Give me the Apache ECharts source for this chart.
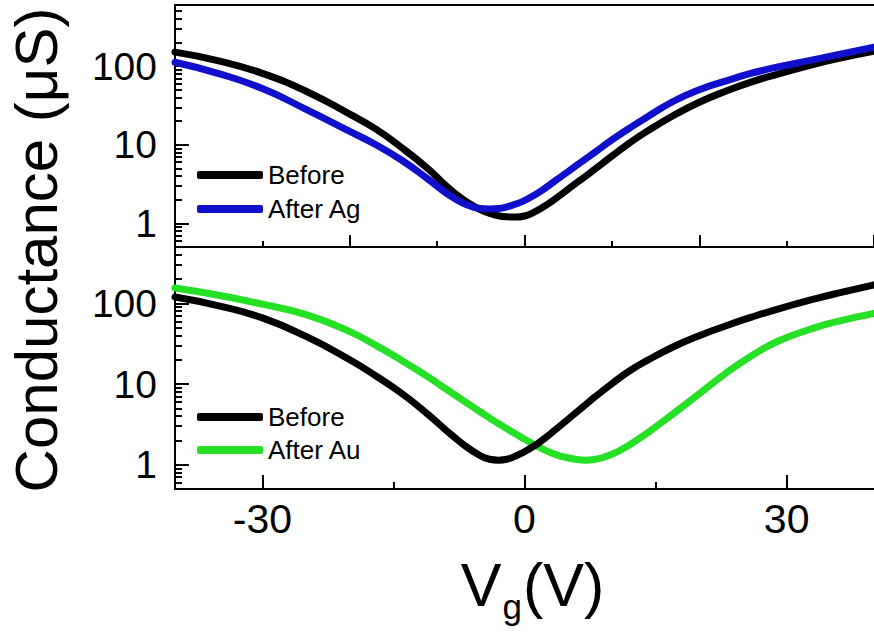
<!DOCTYPE html>
<html><head><meta charset="utf-8">
<script src="https://cdn.jsdelivr.net/npm/echarts@6/dist/echarts.min.js"></script>
<style>html,body{margin:0;padding:0;background:#fff}#c{width:874px;height:635px}</style>
</head><body><div id="c"></div>
<script>
// ---- data ----
const vg = [-40,-35,-30,-25,-20,-17,-14,-11,-9,-7,-5,-4,-3,-2,-1,0,1,2,3,4,6,7,8,10,12,14,17,20,23,26,29,33,36,40];
const topBefore  = [151,117,81,48,24.5,15.8,9.1,4.9,3.02,2.0,1.48,1.34,1.25,1.21,1.2,1.24,1.37,1.58,1.86,2.24,3.31,3.98,4.84,7.16,10.5,14.8,23.4,34.7,47.9,63.1,79.4,105,126,155];
const topAfterAg = [112,80.4,51.9,28.2,14.8,10.0,6.31,3.63,2.45,1.80,1.54,1.52,1.54,1.62,1.76,1.95,2.24,2.63,3.16,3.80,5.50,6.61,7.94,11.5,16.2,22.4,35.5,50.1,64.6,81.3,97.7,120,141,174];
const botBefore  = [120,93.3,66.1,38.9,20.0,12.6,7.59,4.17,2.69,1.78,1.28,1.17,1.14,1.17,1.28,1.45,1.68,2.0,2.43,2.99,4.52,5.56,6.84,10.1,14.5,19.5,28.8,39.8,52.5,67.6,85.1,112,135,170];
const botAfterAu = [155,126,97.7,72.4,44.7,30.2,19.5,12.2,8.71,6.24,4.47,3.80,3.24,2.79,2.40,2.07,1.80,1.585,1.41,1.29,1.16,1.14,1.16,1.35,1.76,2.45,4.27,7.59,13.5,22.4,33.9,49.0,60.3,75.0];
const xTickLabels = [-30, 0, 30];
const xMinorTicks = [-15, 15];
const yTickLabels = [1, 10, 100];
const yMinorTop = [0.6,0.7,0.8,0.9,2,3,4,5,6,7,8,9,20,30,40,50,60,70,80,90,200,300,400,500,600];
const yMinorBot = [0.6,0.7,0.8,0.9,2,3,4,5,6,7,8,9,20,30,40,50,60,70,80,90,200,300,400,500];

const F = '"Liberation Sans", Arial, sans-serif';
const BLK = '#000';
const BLUE = '#1010cc';
const GREEN = '#26e026';
const LW = 7;
const axLine = {onZero:false, lineStyle:{color:BLK, width:2}};
const tickStyle = {color:BLK, width:2};
const pairs = arr => vg.map((x,i)=>[x, arr[i]]);

const chart = echarts.init(document.getElementById('c'), null, {renderer:'svg'});
const lineSeries = (name, xi, yi, arr, color) => ({
  type:'line', name, xAxisIndex:xi, yAxisIndex:yi, data:pairs(arr),
  smooth:0.5, showSymbol:false, symbol:'none',
  itemStyle:{color}, lineStyle:{color, width:LW, cap:'round', join:'round'}
});
const option = {
  animation:false,
  backgroundColor:'#fff',
  grid:[
    {left:175, top:5, right:-9, height:242},
    {left:175, top:247, right:-9, height:242}
  ],
  xAxis:[
    {gridIndex:0, type:'value', min:-40, max:40, interval:20, position:'bottom',
     axisLine:axLine, axisTick:{inside:true, length:12, lineStyle:tickStyle},
     minorTick:{show:true, splitNumber:2, length:6, lineStyle:tickStyle},
     axisLabel:{show:false}, splitLine:{show:false}, minorSplitLine:{show:false}},
    {gridIndex:0, type:'value', min:-40, max:40, position:'top',
     axisLine:axLine, axisTick:{show:false}, axisLabel:{show:false}, splitLine:{show:false}},
    {gridIndex:1, type:'value', min:-40, max:40, position:'bottom',
     axisLine:axLine,
     axisTick:{inside:true, length:14, customValues:xTickLabels, lineStyle:tickStyle},
     axisLabel:{customValues:xTickLabels, fontSize:41, fontFamily:F, color:BLK, margin:9},
     splitLine:{show:false},
     name:'{v|V}{g|g}{v|(V)}', nameLocation:'middle', nameGap:65,
     nameTextStyle:{padding:[0,0,0,16], rich:{
       v:{fontSize:61, fontFamily:F, color:BLK, lineHeight:61, verticalAlign:'top'},
       g:{fontSize:35, fontFamily:F, color:BLK, lineHeight:35, verticalAlign:'top', padding:[35,1,0,1]}
     }}},
    {gridIndex:1, type:'value', min:-40, max:40, position:'bottom',
     axisLine:{show:false, onZero:false},
     axisTick:{inside:true, length:7, customValues:xMinorTicks, lineStyle:tickStyle},
     axisLabel:{show:false}, splitLine:{show:false}}
  ],
  yAxis:[
    {gridIndex:0, type:'log', min:0.5, max:600, position:'left', axisLine:axLine,
     axisTick:{inside:true, length:14, customValues:yTickLabels, lineStyle:tickStyle},
     axisLabel:{customValues:yTickLabels, fontSize:39, fontFamily:F, color:BLK, margin:18, formatter:v=>String(v)},
     splitLine:{show:false}},
    {gridIndex:0, type:'log', min:0.5, max:600, position:'left', axisLine:{show:false, onZero:false},
     axisTick:{inside:true, length:7, customValues:yMinorTop, lineStyle:tickStyle},
     axisLabel:{show:false}, splitLine:{show:false}},
    {gridIndex:1, type:'log', min:0.5, max:500, position:'left', axisLine:axLine,
     axisTick:{inside:true, length:14, customValues:yTickLabels, lineStyle:tickStyle},
     axisLabel:{customValues:yTickLabels, fontSize:39, fontFamily:F, color:BLK, margin:18, formatter:v=>String(v)},
     splitLine:{show:false}},
    {gridIndex:1, type:'log', min:0.5, max:500, position:'left', axisLine:{show:false, onZero:false},
     axisTick:{inside:true, length:7, customValues:yMinorBot, lineStyle:tickStyle},
     axisLabel:{show:false}, splitLine:{show:false}}
  ],
  legend:[
    {data:['Before','After Ag'], orient:'vertical', left:197, top:162, padding:0,
     itemWidth:66, itemHeight:8, itemGap:8, icon:'roundRect', selectedMode:false,
     textStyle:{fontSize:26, fontFamily:F, color:BLK}},
    {data:['Before','After Au'], orient:'vertical', left:197, top:404, padding:0,
     itemWidth:66, itemHeight:8, itemGap:7, icon:'roundRect', selectedMode:false,
     textStyle:{fontSize:26, fontFamily:F, color:BLK}}
  ],
  graphic:[
    {type:'text', x:36, y:250, rotation:Math.PI/2,
     style:{text:'Conductance (μS)', fontSize:60, fontFamily:F, fill:BLK,
            textAlign:'center', textVerticalAlign:'middle', align:'center', verticalAlign:'middle'}}
  ],
  series:[
    lineSeries('Before', 0, 0, topBefore, BLK),
    lineSeries('After Ag', 0, 0, topAfterAg, BLUE),
    lineSeries('After Au', 2, 2, botAfterAu, GREEN),
    lineSeries('Before', 2, 2, botBefore, BLK)
  ]
};
chart.setOption(option);
</script>
</body></html>
